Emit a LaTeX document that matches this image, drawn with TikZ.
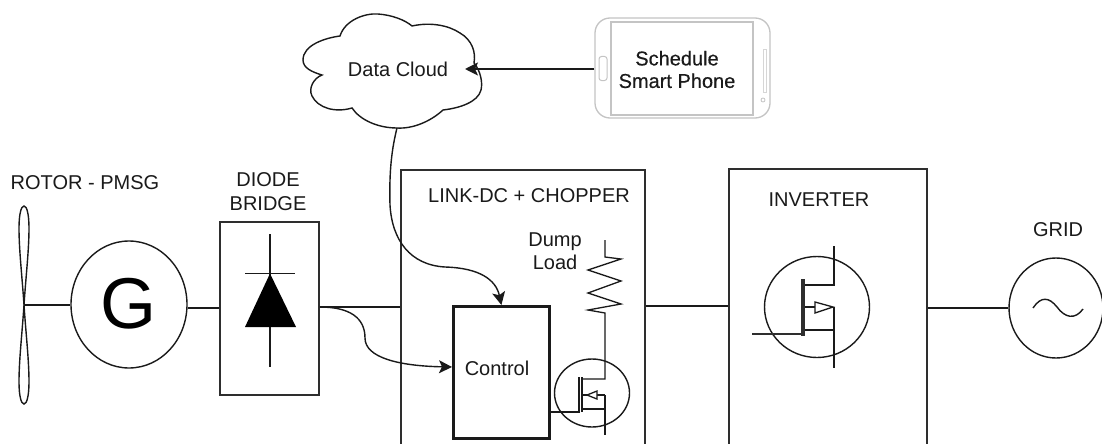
\documentclass[tikz,border=0pt]{standalone}
\usepackage{fontspec}
\setmainfont{Liberation Sans}
\newfontfamily\phonefont[FakeBold=0.4]{Liberation Sans}
\usetikzlibrary{shapes.geometric,arrows.meta}
\definecolor{ink}{HTML}{1A1A1A}
\definecolor{boxgray}{HTML}{2E2E2E}
\definecolor{phonegray}{HTML}{C4C4C4}
\tikzset{
  lbl/.style={inner sep=0pt,text=ink,font=\fontsize{20}{23.5}\selectfont,align=center},
  oval/.style={draw=ink,line width=1.4pt,ellipse,inner sep=0pt},
  box/.style={draw=boxgray,line width=1.6pt,rectangle,inner sep=0pt,anchor=north west},
  wire/.style={draw=ink,line width=1.4pt},
  bus/.style={draw=ink,line width=2.8pt},
  arrowwire/.style={draw=ink,line width=1.4pt,-{Stealth[length=13pt,width=13pt,inset=3pt]}},
  sym/.style={draw=ink,line width=1.3pt,line join=miter},
}
\begin{document}
\begin{tikzpicture}[x=1pt,y=-1pt]
\useasboundingbox (0,0) rectangle (1102,444);
\fill[white] (0,0) rectangle (1102,444);
\clip (0,0) rectangle (1102,444);

% ---- nodes
\node[oval,minimum width=116pt,minimum height=127pt] (gen) at (129,304.5) {};
\node[inner sep=0pt,text=black,font=\fontsize{72}{72}\selectfont] (gtext) at (129,304) {G};
\node[box,minimum width=99pt,minimum height=173pt] (bridge) at (219,221) {};
\node[box,minimum width=244pt,minimum height=280pt] (link) at (400,169) {};
\node[box,minimum width=198pt,minimum height=280pt] (inv) at (728,168) {};
\node[box,draw=ink,line width=2.8pt,minimum width=96pt,minimum height=132pt] (ctrl) at (452,305) {};
\node[oval,minimum width=94pt,minimum height=100pt] (grid) at (1056,308) {};
\node[oval,minimum width=105pt,minimum height=101pt] (invq) at (817,307) {};
\node[oval,minimum width=75pt,minimum height=68pt] (chopq) at (592,393) {};

% ---- labels
\node[lbl] (t1) at (85,183) {ROTOR - PMSG};
\node[lbl] (t2) at (268,191.5) {DIODE\\BRIDGE};
\node[lbl] (t3) at (529,196) {LINK-DC + CHOPPER};
\node[lbl] (t4) at (819,200) {INVERTER};
\node[lbl] (t5) at (1058,230) {GRID};
\node[lbl] (t6) at (555,251) {Dump\\Load};
\node[lbl] (t7) at (497,368) {Control};
\node[lbl] (t8) at (398,69) {Data Cloud};
\node[lbl,font=\phonefont\fontsize{20}{22.5}\selectfont] (t9) at (677,69.5) {Schedule\\Smart Phone};

% ---- blades
\coordinate (hub) at (24,305);
\draw[wire,fill=white] (hub) .. controls (22,275) and (19,250) .. (19,228)
  .. controls (19,215) and (21,206) .. (24,206)
  .. controls (27,206) and (29,215) .. (29,228)
  .. controls (29,250) and (26,275) .. (hub)
  .. controls (22,335) and (19,360) .. (19,382)
  .. controls (19,395) and (21,404) .. (24,404)
  .. controls (27,404) and (29,395) .. (29,382)
  .. controls (29,360) and (26,335) .. (hub);

% ---- cloud
\coordinate (cloudS) at (397,128);
\coordinate (cloudE) at (465,69);
\draw[wire] (303,60)
  .. controls (303,45) and (325,38) .. (340,36)
  .. controls (345,20) and (365,13) .. (378,14)
  .. controls (392,15) and (405,20) .. (412,26)
  .. controls (430,22) and (448,25) .. (460,33)
  .. controls (472,40) and (476,52) .. (474,63)
  .. controls (480,70) and (483,82) .. (481,90)
  .. controls (478,102) and (460,108) .. (443,110)
  .. controls (430,122) and (412,129) .. (397,128)
  .. controls (378,128) and (360,120) .. (352,108)
  .. controls (335,113) and (318,108) .. (312,96)
  .. controls (308,88) and (314,78) .. (322,75)
  .. controls (312,72) and (303,68) .. (303,60) -- cycle;

% ---- phone
\node[draw=phonegray,line width=1.3pt,rectangle,rounded corners=15pt,inner sep=0pt,minimum width=175pt,minimum height=100pt] (phone) at (682.5,68) {};
\node[draw=phonegray,line width=1.3pt,rectangle,inner sep=0pt,minimum width=142pt,minimum height=93pt] (screen) at (682,68.5) {};
\node[draw=phonegray,line width=1pt,rectangle,rounded corners=2.5pt,inner sep=0pt,minimum width=8pt,minimum height=24pt] (homebtn) at (603,68.5) {};
\node[draw=phonegray!70,line width=.8pt,rectangle,inner sep=0pt,minimum width=3pt,minimum height=43pt] (sidebar) at (765,71) {};
\node[draw=phonegray,line width=.8pt,circle,inner sep=0pt,minimum size=4pt] (lens) at (763,100) {};

% ---- connectors
\draw[wire] (hub) -- (gen.west |- hub);
\draw[wire] (gen.east |- 0,308) -- (bridge.west |- 0,308);
\draw[bus] (bridge.east |- 0,307) -- (link.west |- 0,307);
\draw[bus] (link.east |- 0,306) -- (inv.west |- 0,306);
\draw[bus] (inv.east |- 0,308) -- (grid.west);
\draw[arrowwire] (phone.west |- cloudE) -- (cloudE);
\draw[arrowwire] (bridge.east |- 0,307)
  .. controls (350,307) and (365,318) .. (365,338)
  .. controls (365,358) and (400,366) .. (ctrl.west |- 0,367);
\draw[arrowwire] (cloudS)
  .. controls (392,148) and (389,170) .. (390,205)
  .. controls (392,240) and (410,265) .. (445,267)
  .. controls (480,268) and (496,280) .. (ctrl.north);

% ---- diode
\coordinate (dA) at (270,234);
\coordinate (dK) at (270,367);
\draw[wire] (dA) -- (dK);
\draw[wire] (245,273.5) -- (295,273.5);
\fill[black] (270,273.5) -- (296,327) -- (245,327) -- cycle;

% ---- dump load + chopper switch
\draw[sym] (605,240) -- (605,257) -- (621,259) -- (588,270) -- (621,281) -- (588,293) -- (621,304) -- (588,310) -- (605,313) -- (605,379) -- (582,379);
\draw[sym] (605,395) -- (605,435);
\draw[sym] (582,395) -- (605,395);
\draw[sym] (582,409) -- (605,409);
\draw[sym,line width=1.6pt] (582,377) -- (582,412);
\draw[sym] (579,377) -- (579,412) -- (ctrl.east |- 0,412);
\draw[sym,fill=white] (587,395) -- (597,391) -- (597,399) -- cycle;

% ---- inverter switch
\draw[sym] (834,246) -- (834,285) -- (805,285);
\draw[sym] (834,307) -- (834,368);
\draw[sym] (805,330) -- (834,330);
\draw[sym] (805,307) -- (816,307);
\draw[sym,fill=white] (815,302) -- (833,307) -- (815,313) -- cycle;
\draw[sym,draw=boxgray,line width=3.5pt] (803,279) -- (803,336);
\draw[sym,draw=boxgray,line width=2.4pt] (752,334) -- (802,334);

% ---- grid sine
\draw[wire] (1033,308) .. controls (1041,296) and (1049,297) .. (1057,307)
  .. controls (1065,318) and (1075,320) .. (1083,309);
\end{tikzpicture}
\end{document}
